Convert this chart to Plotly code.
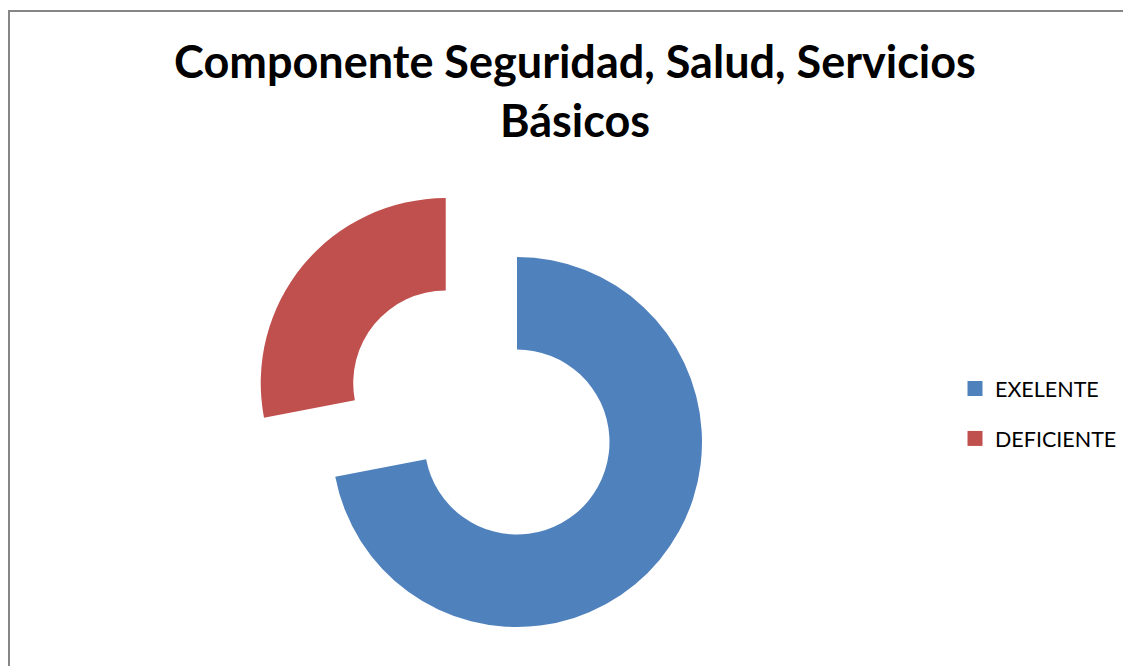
import math
import plotly.graph_objects as go

categories = ["EXELENTE", "DEFICIENTE"]
values = [72, 28]
colors = ["#4F81BD", "#C0504D"]
exploded = [False, True]
title_text = "Componente Seguridad, Salud, Servicios<br>Básicos"

W, H = 1123, 658       # page has an 8px body margin
cx, cy = 509, 434      # pixel center of the un-exploded pie (figure coords)
R = 185                # outer radius (px)
HOLE = 0.5
PULL = 0.5             # explosion as fraction of radius

def domain_for(px, py):
    return dict(x=[(px - R) / W, (px + R) / W],
                y=[(H - (py + R)) / H, (H - (py - R)) / H])

fig = go.Figure()
total = sum(values)
start = 0.0
for i, (lab, v) in enumerate(zip(categories, values)):
    frac = v / total
    mid = (start + frac / 2) * 2 * math.pi   # clockwise from 12 o'clock
    off = PULL * R if exploded[i] else 0.0
    px = cx + off * math.sin(mid)
    py = cy - off * math.cos(mid)
    slice_colors = [colors[j] if j == i else "rgba(0,0,0,0)" for j in range(len(values))]
    fig.add_trace(go.Pie(
        labels=categories, values=values, sort=False, direction="clockwise",
        rotation=0, hole=HOLE, textinfo="none", hoverinfo="skip",
        marker=dict(colors=slice_colors, line=dict(width=0)),
        domain=domain_for(px, py), showlegend=False,
    ))
    start += frac

for i, lab in enumerate(categories):
    fig.add_trace(go.Scatter(
        x=[None], y=[None], mode="markers", name=lab, legendgroup=lab,
        marker=dict(symbol="square", size=15, color=colors[i]),
    ))

border = dict(color="#868686", width=2)
fig.update_layout(
    width=W, height=H,
    margin=dict(l=0, r=0, t=0, b=0),
    paper_bgcolor="white", plot_bgcolor="white",
    xaxis=dict(visible=False), yaxis=dict(visible=False),
    title=dict(text=title_text, x=567 / W, xanchor="center", y=1 - 70 / H, yanchor="middle",
               font=dict(family="Lato", size=45, color="black", weight="bold")),
    legend=dict(x=947 / W, xanchor="left", y=1 - 360 / H, yanchor="top",
                font=dict(family="Lato", size=21.5, color="black"),
                tracegroupgap=19, bgcolor="rgba(0,0,0,0)"),
    shapes=[
        dict(type="line", xref="paper", yref="paper",
             x0=1 / W, x1=1 / W, y0=0, y1=1 - 2 / H, line=border),
        dict(type="line", xref="paper", yref="paper",
             x0=0, x1=1, y0=1 - 3 / H, y1=1 - 3 / H, line=border),
    ],
)

fig.write_html("out.html")
